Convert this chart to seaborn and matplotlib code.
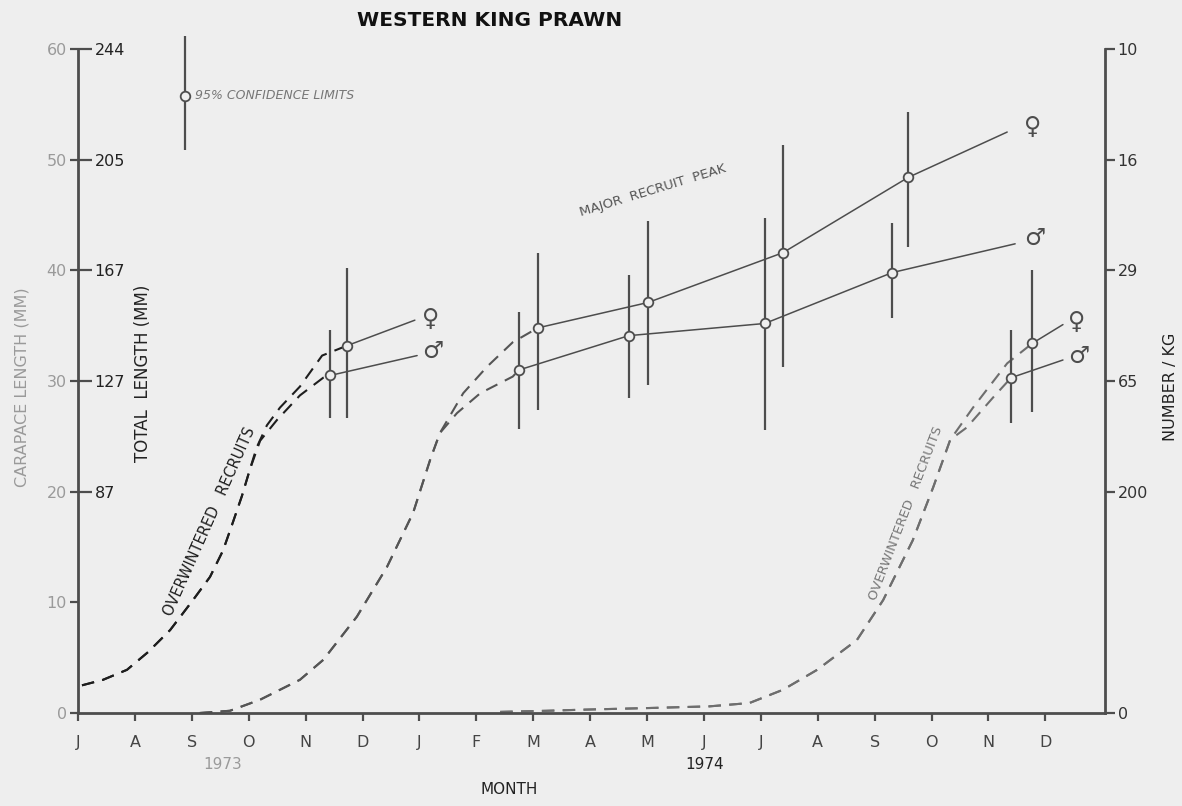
import matplotlib
matplotlib.use('Agg')
import matplotlib.pyplot as plt
import seaborn as sns

# x = months after July 1973 (0 = Jul 73, 17 = Dec 74), y = carapace length (mm)
month_labels = ['J', 'A', 'S', 'O', 'N', 'D', 'J', 'F', 'M', 'A', 'M', 'J',
                'J', 'A', 'S', 'O', 'N', 'D']

# second y scales read against carapace length
total_len_at = [20, 30, 40, 50, 60]
total_len_labels = ['87', '127', '167', '205', '244']
number_kg_at = [0, 20, 30, 40, 50, 60]
number_kg_labels = ['0', '200', '65', '29', '16', '10']

# sample means with 95% confidence limits
f73_x, f73_y, f73_lo, f73_hi = [4.73], [33.2], [26.7], [40.2]
m73_x, m73_y, m73_lo, m73_hi = [4.43], [30.5], [26.7], [34.6]

f74_x = [8.08, 10.02, 12.39, 14.59]
f74_y = [34.8, 37.1, 41.6, 48.4]
f74_lo = [27.4, 29.6, 31.3, 42.1]
f74_hi = [41.6, 44.5, 51.3, 54.3]
m74_x = [7.75, 9.68, 12.07, 14.31]
m74_y = [31.0, 34.1, 35.2, 39.8]
m74_lo = [25.7, 28.5, 25.6, 35.7]
m74_hi = [36.2, 39.6, 44.7, 44.3]

f74b_x, f74b_y, f74b_lo, f74b_hi = [16.77], [33.4], [27.2], [40.0]
m74b_x, m74b_y, m74b_lo, m74b_hi = [16.40], [30.3], [26.2], [34.6]

# where each growth line runs out to its sex symbol
f73_end, m73_end = (5.92, 35.5), (5.96, 32.3)
f74_end, m74_end = (16.33, 52.5), (16.47, 42.4)
f74b_end, m74b_end = (17.31, 35.1), (17.31, 31.9)

# hand drawn recruitment curves (dashed)
rec1_f_x = [0.07, 0.44, 0.86, 1.23, 1.62, 2.02, 2.32, 2.55, 2.72, 2.88, 3.02, 3.14, 3.32, 3.55, 3.90, 4.29, 4.73]
rec1_f_y = [2.5, 3.0, 3.9, 5.5, 7.5, 10.2, 12.3, 14.7, 17.2, 19.6, 22.0, 24.0, 26.0, 27.6, 29.5, 32.3, 33.2]
rec1_m_x = [0.07, 0.44, 0.86, 1.23, 1.62, 2.02, 2.32, 2.55, 2.72, 2.88, 3.02, 3.20, 3.50, 3.90, 4.31, 4.43]
rec1_m_y = [2.5, 3.0, 3.9, 5.5, 7.5, 10.2, 12.3, 14.7, 17.2, 19.6, 22.0, 24.6, 26.5, 28.7, 30.3, 30.5]

rec2_f_x = [2.14, 2.67, 3.20, 3.90, 4.31, 4.90, 5.43, 5.89, 6.19, 6.36, 6.77, 7.19, 7.64, 8.08]
rec2_f_y = [0.0, 0.2, 1.2, 3.0, 4.8, 8.7, 13.2, 18.1, 22.9, 25.3, 28.9, 31.3, 33.5, 34.8]
rec2_m_x = [2.14, 2.67, 3.20, 3.90, 4.31, 4.90, 5.43, 5.89, 6.19, 6.36, 6.66, 7.07, 7.64, 7.75]
rec2_m_y = [0.0, 0.2, 1.2, 3.0, 4.8, 8.7, 13.2, 18.1, 22.9, 25.3, 27.1, 28.9, 30.4, 31.0]

rec3_f_x = [7.42, 8.24, 8.88, 10.05, 11.10, 11.80, 12.39, 12.99, 13.69, 14.15, 14.67, 15.03, 15.33, 15.73, 16.33, 16.77]
rec3_f_y = [0.1, 0.2, 0.3, 0.45, 0.6, 0.9, 2.1, 3.9, 6.6, 10.2, 15.6, 20.4, 24.7, 27.6, 31.6, 33.4]
rec3_m_x = [7.42, 8.24, 8.88, 10.05, 11.10, 11.80, 12.39, 12.99, 13.69, 14.15, 14.67, 15.03, 15.33, 15.62, 16.08, 16.40]
rec3_m_y = [0.1, 0.2, 0.3, 0.45, 0.6, 0.9, 2.1, 3.9, 6.6, 10.2, 15.6, 20.4, 24.7, 25.8, 28.5, 30.3]

BG = '#eeeeee'
INK = '#4d4d4d'
PALE = '#9a9a9a'

sns.set_theme(style='ticks')
plt.rcParams['font.family'] = ['DejaVu Sans']

fig = plt.figure(figsize=(11.82, 8.06), dpi=100, facecolor=BG)
ax = fig.add_axes([0.066, 0.1154, 0.8689, 0.8512])
ax.set_facecolor(BG)

# dashed recruitment curves
dash = (0, (6, 4))
for xs, ys, col in [(rec1_f_x, rec1_f_y, '#1e1e1e'), (rec1_m_x, rec1_m_y, '#1e1e1e'),
                    (rec2_f_x, rec2_f_y, '#555555'), (rec2_m_x, rec2_m_y, '#555555'),
                    (rec3_f_x, rec3_f_y, '#6e6e6e'), (rec3_m_x, rec3_m_y, '#6e6e6e')]:
    sns.lineplot(x=xs, y=ys, ax=ax, color=col, lw=1.5, linestyle=dash,
                 estimator=None, sort=False, zorder=2)

# confidence limits
groups = [(f73_x, f73_lo, f73_hi), (m73_x, m73_lo, m73_hi),
          (f74_x, f74_lo, f74_hi), (m74_x, m74_lo, m74_hi),
          (f74b_x, f74b_lo, f74b_hi), (m74b_x, m74b_lo, m74b_hi)]
for xs, lo, hi in groups:
    ax.vlines(xs, lo, hi, color=INK, lw=1.6, zorder=3)

# growth lines out to the sex symbols
lines = [(f73_x, f73_y, f73_end), (m73_x, m73_y, m73_end),
         (f74_x, f74_y, f74_end), (m74_x, m74_y, m74_end),
         (f74b_x, f74b_y, f74b_end), (m74b_x, m74b_y, m74b_end)]
for xs, ys, end in lines:
    sns.lineplot(x=xs + [end[0]], y=ys + [end[1]], ax=ax, color=INK, lw=1.1,
                 estimator=None, sort=False, zorder=3)
    sns.scatterplot(x=xs, y=ys, ax=ax, s=48, color=BG, edgecolor=INK,
                    linewidth=1.3, zorder=4)

# sex symbols
for (x, y), sym in [((6.05, 35.6), '\u2640'), ((6.05, 32.7), '\u2642'),
                    ((16.62, 53.0), '\u2640'), ((16.62, 42.9), '\u2642'),
                    ((17.40, 35.3), '\u2640'), ((17.40, 32.3), '\u2642')]:
    ax.text(x, y, sym, fontsize=17, color=INK, ha='left', va='center')

# key for the confidence limits
ax.vlines([1.88], [50.9], [61.2], color=INK, lw=1.6, zorder=3)
sns.scatterplot(x=[1.88], y=[55.8], ax=ax, s=48, color=BG, edgecolor=INK,
                linewidth=1.3, zorder=4)
ax.text(2.05, 55.8, '95% CONFIDENCE LIMITS', fontsize=9, style='italic',
        color='#777777', va='center')

ax.text(10.1, 47.2, 'MAJOR  RECRUIT  PEAK', fontsize=9.5, color='#555555',
        rotation=17, ha='center', va='center', rotation_mode='anchor')
ax.text(2.32, 17.3, 'OVERWINTERED   RECRUITS', fontsize=10.5, color='#1e1e1e',
        rotation=66, ha='center', va='center', rotation_mode='anchor')
ax.text(14.55, 18.0, 'OVERWINTERED   RECRUITS', fontsize=9.5, color='#777777',
        rotation=69, ha='center', va='center', rotation_mode='anchor')

# axes
ax.set_xlim(0, 18.05)
ax.set_ylim(0, 62)
ax.set_xlabel('')
ax.set_ylabel('')
ax.spines['top'].set_visible(False)
ax.spines['right'].set_visible(False)
ax.spines['left'].set_bounds(0, 60)
for s in ['left', 'bottom']:
    ax.spines[s].set_color(INK)
    ax.spines[s].set_linewidth(2)
ax.set_xticks(range(len(month_labels)))
ax.set_xticklabels(month_labels)
ax.tick_params(axis='x', direction='out', length=6, width=1.6, pad=10,
               labelsize=11.5, color=INK, labelcolor='#444444')
ax.set_yticks([0, 10, 20, 30, 40, 50, 60])
ax.set_yticklabels(['0', '10', '20', '30', '40', '50', '60'])
ax.tick_params(axis='y', direction='out', length=6, width=1.6, pad=2,
               labelsize=11.5, color=INK, labelcolor=PALE)

ax_tl = ax.twinx()
ax_tl.set_ylim(0, 62)
for s in ['top', 'bottom', 'left', 'right']:
    ax_tl.spines[s].set_visible(False)
ax_tl.spines['right'].set_position(('axes', 0))
ax_tl.set_yticks(total_len_at)
ax_tl.set_yticklabels(total_len_labels)
ax_tl.tick_params(axis='y', direction='out', length=10, width=1.6, pad=2,
                  labelsize=11.5, color=INK, labelcolor='#222222')

ax_n = ax.twinx()
ax_n.set_ylim(0, 62)
for s in ['top', 'bottom', 'left']:
    ax_n.spines[s].set_visible(False)
ax_n.spines['right'].set_bounds(0, 60)
ax_n.spines['right'].set_color(INK)
ax_n.spines['right'].set_linewidth(2)
ax_n.set_yticks(number_kg_at)
ax_n.set_yticklabels(number_kg_labels)
ax_n.tick_params(axis='y', direction='out', length=7, width=1.6, pad=2,
                 labelsize=11.5, color=INK, labelcolor='#333333')

# titles and axis names
fig.text(0.4146, 0.974, 'WESTERN KING PRAWN', ha='center', va='center',
         fontsize=14.5, fontweight='bold', color='#111111')
fig.text(0.019, 0.519, 'CARAPACE LENGTH (MM)', rotation=90, ha='center',
         va='center', fontsize=11.5, color=PALE)
fig.text(0.121, 0.537, 'TOTAL  LENGTH (MM)', rotation=90, ha='center',
         va='center', fontsize=12, color='#222222')
fig.text(0.990, 0.52, 'NUMBER / KG', rotation=90, ha='center',
         va='center', fontsize=11.5, color='#222222')
fig.text(0.431, 0.011, 'MONTH', ha='center', va='bottom', fontsize=11,
         color='#222222')
fig.text(0.188, 0.042, '1973', ha='center', va='bottom', fontsize=11,
         color=PALE)
fig.text(0.596, 0.042, '1974', ha='center', va='bottom', fontsize=11,
         color='#222222')

fig.savefig('out.png', dpi=100, facecolor=BG)
plt.close(fig)
